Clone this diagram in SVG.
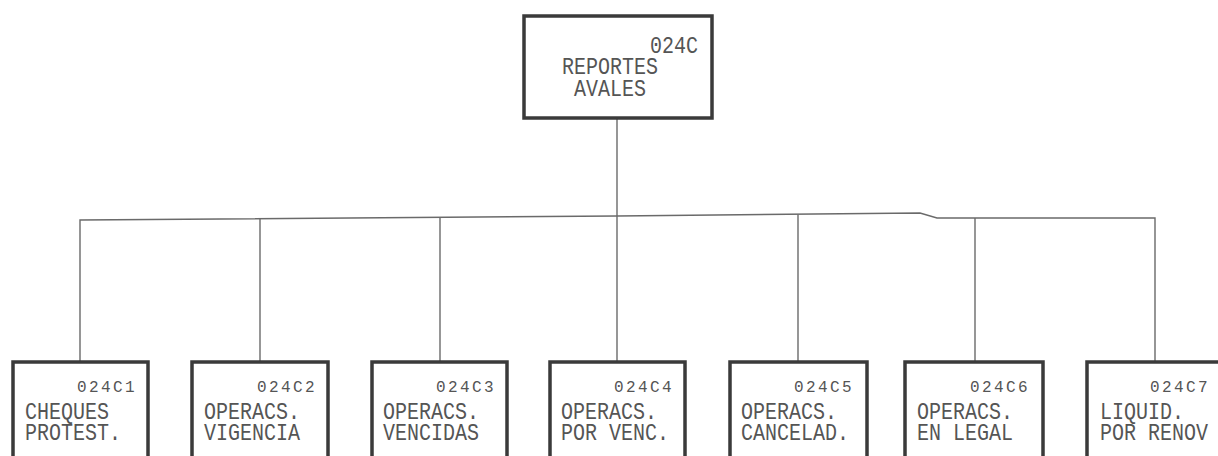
<svg xmlns="http://www.w3.org/2000/svg" width="1218" height="456" viewBox="0 0 1218 456">
<style>
.box{fill:#fff;stroke:#3a3a3a;stroke-width:3.5}
.ln{fill:none;stroke:#6a6a6a;stroke-width:1.4}
.lbl{font-family:"Liberation Mono","DejaVu Sans Mono",monospace;font-size:20px;fill:#555}
.code{font-family:"Liberation Mono","DejaVu Sans Mono",monospace;font-size:16px;letter-spacing:2.4px;fill:#555}
</style>
<rect width="1218" height="456" fill="#fff"/>
<g id="connectors">
<path class="ln" d="M617,118 V216"/>
<path class="ln" d="M80,362 V220 L617,216 L920,213 L937,218 L1155,218 V362"/>
<path class="ln" d="M260,219 V362"/>
<path class="ln" d="M440,217.5 V362"/>
<path class="ln" d="M617,216 V362"/>
<path class="ln" d="M798,214.5 V362"/>
<path class="ln" d="M975,218 V362"/>
</g>
<g id="n024C">
<rect class="box" x="524" y="16" width="188" height="102"/>
<text class="lbl" transform="translate(650 53) scale(1 1.2)">024C</text>
<text class="lbl" transform="translate(562 74) scale(1 1.2)">REPORTES</text>
<text class="lbl" transform="translate(574 96) scale(1 1.2)">AVALES</text>
</g>
<g id="n024C1">
<rect class="box" x="13" y="362" width="135" height="120"/>
<text class="code" x="77" y="392">024C1</text>
<text class="lbl" transform="translate(25 419) scale(1 1.2)">CHEQUES</text>
<text class="lbl" transform="translate(25 440) scale(1 1.2)">PROTEST.</text>
</g>
<g id="n024C2">
<rect class="box" x="192" y="362" width="136" height="120"/>
<text class="code" x="257" y="392">024C2</text>
<text class="lbl" transform="translate(204 419) scale(1 1.2)">OPERACS.</text>
<text class="lbl" transform="translate(204 440) scale(1 1.2)">VIGENCIA</text>
</g>
<g id="n024C3">
<rect class="box" x="372" y="362" width="135" height="120"/>
<text class="code" x="436" y="392">024C3</text>
<text class="lbl" transform="translate(383 419) scale(1 1.2)">OPERACS.</text>
<text class="lbl" transform="translate(383 440) scale(1 1.2)">VENCIDAS</text>
</g>
<g id="n024C4">
<rect class="box" x="550" y="362" width="135" height="120"/>
<text class="code" x="614" y="392">024C4</text>
<text class="lbl" transform="translate(561 419) scale(1 1.2)">OPERACS.</text>
<text class="lbl" transform="translate(561 440) scale(1 1.2)">POR VENC.</text>
</g>
<g id="n024C5">
<rect class="box" x="730" y="362" width="137" height="120"/>
<text class="code" x="794" y="392">024C5</text>
<text class="lbl" transform="translate(741 419) scale(1 1.2)">OPERACS.</text>
<text class="lbl" transform="translate(741 440) scale(1 1.2)">CANCELAD.</text>
</g>
<g id="n024C6">
<rect class="box" x="905" y="362" width="138" height="120"/>
<text class="code" x="970" y="392">024C6</text>
<text class="lbl" transform="translate(917 419) scale(1 1.2)">OPERACS.</text>
<text class="lbl" transform="translate(917 440) scale(1 1.2)">EN LEGAL</text>
</g>
<g id="n024C7">
<rect class="box" x="1087" y="362" width="136" height="120"/>
<text class="code" x="1150" y="392">024C7</text>
<text class="lbl" transform="translate(1100 419) scale(1 1.2)">LIQUID.</text>
<text class="lbl" transform="translate(1100 440) scale(1 1.2)">POR RENOV</text>
</g>
</svg>
